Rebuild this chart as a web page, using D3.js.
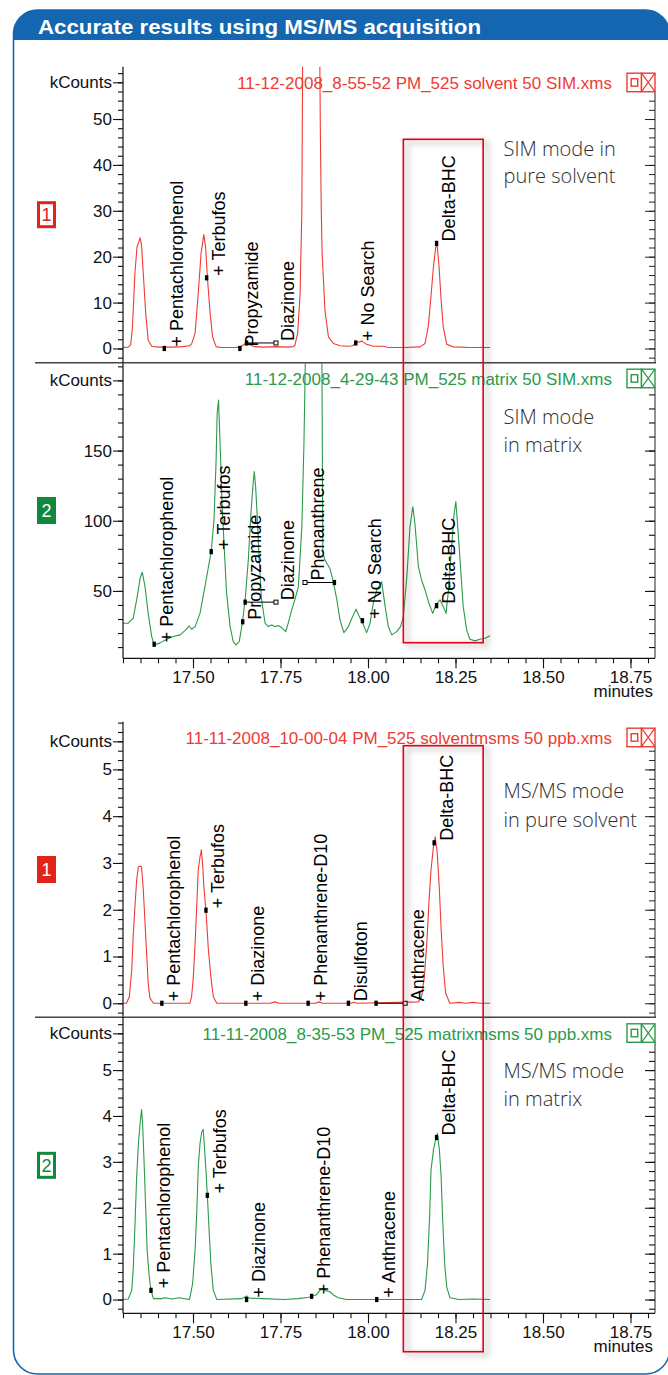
<!DOCTYPE html>
<html><head><meta charset="utf-8">
<script src="https://cdn.jsdelivr.net/npm/d3@7"></script>
<style>
html,body{margin:0;padding:0;background:#fff;}
svg{display:block;}
</style></head>
<body>
<svg id="chart" width="668" height="1375"></svg>
<script>
// ---------------- DATA ----------------
const headerTitle = "Accurate results using MS/MS acquisition";
const timeDomain = [17.30, 18.82];
const xMajorTicks = [17.50, 17.75, 18.00, 18.25, 18.50, 18.75];
const xTickLabels = ["17.50", "17.75", "18.00", "18.25", "18.50", "18.75"];
const xUnit = "minutes";
const yUnit = "kCounts";
const highlightWindow = [18.101, 18.329];

const panelTitles = [
  "11-12-2008_8-55-52 PM_525 solvent 50 SIM.xms",
  "11-12-2008_4-29-43 PM_525 matrix 50 SIM.xms",
  "11-11-2008_10-00-04 PM_525 solventmsms 50 ppb.xms",
  "11-11-2008_8-35-53 PM_525 matrixmsms 50 ppb.xms"
];
const panelNotes = [
  ["SIM mode in", "pure solvent"],
  ["SIM mode", "in matrix"],
  ["MS/MS mode", "in pure solvent"],
  ["MS/MS mode", "in matrix"]
];
const panelBadges = ["1", "2", "1", "2"];

// y tick labels per panel
const yTicksSolventSIM = [0, 10, 20, 30, 40, 50];
const yTicksMatrixSIM = [50, 100, 150];
const yTicksSolventMSMS = [0, 1, 2, 3, 4, 5];
const yTicksMatrixMSMS = [0, 1, 2, 3, 4, 5];

// traces: [minutes, kCounts]
const solventSIM = [
  [17.300,0.2],[17.315,0.3],[17.322,0.8],[17.327,4.7],[17.334,16.3],[17.340,22.1],[17.349,24.1],[17.353,22.5],
  [17.358,16.3],[17.365,7.6],[17.372,1.8],[17.382,0.5],[17.400,0.3],[17.440,0.3],[17.470,0.4],[17.490,0.6],
  [17.496,1.0],[17.506,3.3],[17.515,12.0],[17.523,20.7],[17.531,24.8],[17.536,22.1],[17.541,15.6],[17.549,7.6],
  [17.556,2.5],[17.566,0.4],[17.580,0.2],[17.620,0.2],[17.634,0.3],[17.645,0.8],[17.653,1.2],[17.660,0.9],
  [17.675,0.4],[17.700,0.3],[17.740,0.4],[17.770,0.3],[17.787,0.4],[17.791,0.7],[17.799,3.3],[17.806,12.0],
  [17.811,30],[17.813,60],[17.816,150],[17.830,600],[17.840,740],[17.850,600],[17.860,100],[17.8625,61],
  [17.864,46],[17.8665,30],[17.869,20.7],[17.877,8.3],[17.887,2.5],[17.901,1.1],[17.920,0.6],[17.940,0.5],
  [17.956,0.6],[17.965,1.2],[17.982,1.6],[17.996,0.9],[18.015,0.5],[18.044,0.5],[18.058,0.2],[18.100,0.2],
  [18.149,0.35],[18.163,1.1],[18.172,4.7],[18.179,10.5],[18.187,17.8],[18.193,21.8],[18.197,23.0],[18.203,17.8],
  [18.209,10.5],[18.215,4.7],[18.225,0.9],[18.244,0.35],[18.291,0.2],[18.349,0.2]
];
const matrixSIM = [
  [17.300,27],[17.315,27],[17.329,30.5],[17.339,43.6],[17.349,59],[17.355,63.3],[17.363,53],[17.372,34],
  [17.382,17.5],[17.389,11.5],[17.406,13],[17.425,15.6],[17.444,17.5],[17.463,18.7],[17.477,21.7],[17.489,25],
  [17.496,22.7],[17.506,24.6],[17.520,34],[17.534,53],[17.544,67],[17.552,78],[17.560,100.6],[17.566,143],
  [17.569,176.5],[17.573,186],[17.575,171.8],[17.579,143],[17.583,112.5],[17.589,81.6],[17.596,48.4],[17.606,24.6],
  [17.615,13.9],[17.623,11.5],[17.632,13.9],[17.641,27],[17.649,43.6],[17.658,72],[17.665,103],[17.671,124.3],
  [17.675,135],[17.679,124.3],[17.684,100.6],[17.689,72],[17.696,43.6],[17.706,27],[17.715,24.6],[17.725,25.8],
  [17.734,24.6],[17.744,25.3],[17.753,23.9],[17.765,21],[17.772,27],[17.782,36.5],[17.791,43.6],[17.801,53],
  [17.811,95.8],[17.817,155],[17.822,230],[17.840,600],[17.850,700],[17.860,500],[17.868,230],[17.871,77],
  [17.877,72],[17.891,66],[17.901,56.6],[17.911,43.6],[17.920,29.3],[17.931,20.3],[17.944,24.6],[17.956,31.7],
  [17.966,37],[17.975,31.7],[17.985,27],[17.996,20.3],[18.006,27],[18.015,41.2],[18.025,50.7],[18.039,56.6],
  [18.049,38.8],[18.058,24.6],[18.068,18.7],[18.082,21],[18.093,24.6],[18.101,31.7],[18.111,60.2],[18.120,95.8],
  [18.128,110],[18.134,98.2],[18.144,67.3],[18.153,57.8],[18.163,50.7],[18.174,41.2],[18.185,34],[18.194,40],
  [18.206,43.6],[18.215,38.8],[18.223,34],[18.229,48.4],[18.239,81.6],[18.246,105],[18.251,113.6],[18.255,100.6],
  [18.263,72],[18.272,38.8],[18.282,22.2],[18.291,15.6],[18.306,14.4],[18.320,15.6],[18.334,16.3],[18.349,18]
];
const solventMSMS = [
  [17.300,0],[17.310,0],[17.318,0.14],[17.325,0.71],[17.329,1.42],[17.334,2.06],[17.339,2.63],[17.344,2.92],
  [17.349,2.93],[17.353,2.92],[17.358,2.42],[17.363,1.71],[17.368,1.0],[17.372,0.43],[17.377,0.11],[17.387,0],
  [17.491,0],[17.496,0.14],[17.501,0.57],[17.506,1.28],[17.511,2.14],[17.515,2.85],[17.520,3.13],[17.524,3.28],
  [17.528,2.92],[17.531,2.49],[17.537,1.99],[17.544,1.14],[17.551,0.57],[17.558,0.14],[17.568,0],[17.720,0],
  [17.734,0.03],[17.745,0],[17.850,0],[17.860,0.03],[17.870,0],[17.950,0],[17.960,0.02],[17.970,0],
  [18.144,0.03],[18.153,0.14],[18.161,0.57],[18.168,1.28],[18.174,2.14],[18.180,2.85],[18.187,3.35],[18.192,3.56],
  [18.198,3.2],[18.204,2.42],[18.209,1.57],[18.215,0.78],[18.222,0.21],[18.234,0],[18.260,0.02],[18.280,0],
  [18.300,0.02],[18.320,0],[18.349,0]
];
const matrixMSMS = [
  [17.300,0],[17.315,0.01],[17.325,0.2],[17.329,0.64],[17.334,1.58],[17.339,2.67],[17.344,3.4],[17.349,3.84],
  [17.353,4.14],[17.356,3.84],[17.360,3.04],[17.365,1.95],[17.369,1.08],[17.375,0.49],[17.380,0.2],[17.387,0.02],
  [17.410,0.02],[17.420,0.04],[17.440,0.01],[17.460,0.04],[17.490,0],[17.499,0.35],[17.506,1.08],[17.511,1.95],
  [17.515,2.89],[17.520,3.4],[17.525,3.65],[17.529,3.71],[17.532,3.4],[17.537,2.82],[17.541,2.27],[17.546,1.51],
  [17.551,0.78],[17.558,0.2],[17.568,0],[17.640,0.02],[17.653,0.08],[17.660,0.03],[17.700,0.02],[17.760,0],
  [17.800,0.02],[17.830,0.05],[17.839,0.07],[17.852,0.1],[17.863,0.2],[17.873,0.24],[17.877,0.2],[17.891,0.17],
  [17.901,0.1],[17.915,0.04],[17.939,0],[18.153,0],[18.163,0.2],[18.170,0.78],[18.176,1.8],[18.180,2.82],
  [18.187,3.26],[18.192,3.44],[18.198,3.62],[18.204,3.26],[18.209,2.67],[18.213,1.8],[18.219,0.78],[18.225,0.27],
  [18.234,0.04],[18.260,0],[18.300,0.01],[18.349,0]
];

// peak labels: [text, minutes, kCounts]
const solventSIMLabels = [["+ Pentachlorophenol",17.418,0],["+ Terbufos",17.539,15.4],["Propyzamide",17.634,0],
  ["Diazinone",17.737,1.2],["+ No Search",17.965,1.2],["Delta-BHC",18.196,22.9]];
const matrixSIMLabels = [["+ Pentachlorophenol",17.389,12],["+ Terbufos",17.552,78],["Propyzamide",17.642,28],
  ["Diazinone",17.737,42],["Phenanthrene",17.820,56],["+ No Search",17.984,28.8],["Delta-BHC",18.196,39.5]];
const solventMSMSLabels = [["+ Pentachlorophenol",17.411,0],["+ Terbufos",17.537,1.99],["+ Diazinone",17.651,0],
  ["+ Phenanthrene-D10",17.829,0],["Disulfoton",17.944,0],["Anthracene",18.106,0],["Delta-BHC",18.189,3.43]];
const matrixMSMSLabels = [["+ Pentachlorophenol",17.380,0.2],["+ Terbufos",17.541,2.27],["+ Diazinone",17.653,0],
  ["+ Phenanthrene-D10",17.839,0.07],["+ Anthracene",18.025,0],["Delta-BHC",18.196,3.53]];

// filled peak markers: [minutes, kCounts]
const solventSIMMarkers = [[17.418,0],[17.539,15.4],[17.634,0],[17.653,1.2],[17.965,1.2],[18.196,22.9]];
const matrixSIMMarkers = [[17.389,12],[17.552,78],[17.642,28],[17.649,42],[17.904,56],[17.984,28.8],[18.196,39.5]];
const solventMSMSMarkers = [[17.411,0],[17.537,1.99],[17.651,0],[17.829,0],[17.944,0],[18.023,0],[18.189,3.43]];
const matrixMSMSMarkers = [[17.380,0.2],[17.541,2.27],[17.653,0],[17.839,0.07],[18.025,0],[18.196,3.53]];

// integration brackets: [filled end, open end, kCounts]
const solventSIMBrackets = [[17.653,17.737,1.2]];
const matrixSIMBrackets = [[17.649,17.737,42],[17.904,17.820,56]];
const solventMSMSBrackets = [[18.023,18.106,0]];
const matrixMSMSBrackets = [];

// ---------------- LAYOUT / STYLE ----------------
const FONT = "'Liberation Sans', Arial, Helvetica, sans-serif";
const RED = "#ee3b33", GREEN = "#2b9a4b";
const BADGE_RED = "#e2231a", BADGE_GREEN = "#0f8a3c";
const BLUE = "#1566b0";
const X0 = 123, X1 = 655;

const panels = [
  {series: solventSIM, labels: solventSIMLabels, markers: solventSIMMarkers, brackets: solventSIMBrackets,
   color: RED, badgeColor: BADGE_RED, badgeFilled: false, top: 66.7, bottom: 362.7, yDomain: [-3.1, 61.4],
   minor: 2, minorRange: [-2, 60], majors: yTicksSolventSIM, kTick: 58, xAxis: false, noteY: [155.7, 182.7]},
  {series: matrixSIM, labels: matrixSIMLabels, markers: matrixSIMMarkers, brackets: matrixSIMBrackets,
   color: GREEN, badgeColor: BADGE_GREEN, badgeFilled: true, top: 362.7, bottom: 658.3, yDomain: [2, 212.6],
   minor: 10, minorRange: [10, 210], majors: yTicksMatrixSIM, kTick: 200, xAxis: true, noteY: [424.3, 451.7]},
  {series: solventMSMS, labels: solventMSMSLabels, markers: solventMSMSMarkers, brackets: solventMSMSBrackets,
   color: RED, badgeColor: BADGE_RED, badgeFilled: true, top: 721.7, bottom: 1017.3, yDomain: [-0.3, 6.02],
   minor: 0.2, minorRange: [-0.2, 6.0], majors: yTicksSolventMSMS, kTick: 5.6, xAxis: false, noteY: [798.3, 826.7]},
  {series: matrixMSMS, labels: matrixMSMSLabels, markers: matrixMSMSMarkers, brackets: matrixMSMSBrackets,
   color: GREEN, badgeColor: BADGE_GREEN, badgeFilled: false, top: 1017.3, bottom: 1313.3, yDomain: [-0.3, 6.15],
   minor: 0.2, minorRange: [-0.2, 6.0], majors: yTicksMatrixMSMS, kTick: 5.8, xAxis: true, noteY: [1078.3, 1106]}
];
const highlightBoxes = [[139.3, 642.7], [745.7, 1351.7]];

// ---------------- DRAW ----------------
const svg = d3.select("#chart");
const defs = svg.append("defs");
defs.append("filter").attr("id", "shadow").attr("x", "-30%").attr("y", "-10%").attr("width", "160%").attr("height", "120%")
  .append("feDropShadow").attr("dx", 4).attr("dy", 3).attr("stdDeviation", 3)
  .attr("flood-color", "#000").attr("flood-opacity", 0.4);

// outer frame
const fx = 13.5, fy = 10, fw = 656, fh = 1364, fr = 24;
defs.append("clipPath").attr("id", "frameClip").append("rect")
  .attr("x", fx).attr("y", fy).attr("width", fw).attr("height", fh).attr("rx", fr).attr("ry", fr);
svg.append("rect").attr("clip-path", "url(#frameClip)")
  .attr("x", fx).attr("y", fy).attr("width", fw).attr("height", 30).attr("fill", BLUE);
svg.append("rect").attr("x", fx).attr("y", fy).attr("width", fw).attr("height", fh).attr("rx", fr).attr("ry", fr)
  .attr("fill", "none").attr("stroke", BLUE).attr("stroke-width", 1.6);
svg.append("text").attr("x", 38).attr("y", 33.5).attr("fill", "#fff")
  .attr("font-family", "'Liberation Sans', Arial, sans-serif").attr("font-weight", "bold")
  .attr("font-size", 21).attr("textLength", 443).attr("lengthAdjust", "spacingAndGlyphs")
  .text(headerTitle);

const x = d3.scaleLinear().domain(timeDomain).range([X0, X1]);

function fixed(v) { return +v.toFixed(4); }

panels.forEach((p, i) => {
  const y = d3.scaleLinear().domain(p.yDomain).range([p.bottom, p.top]);
  const g = svg.append("g");
  defs.append("clipPath").attr("id", "clip" + i).append("rect")
    .attr("x", X0).attr("y", p.top).attr("width", X1 - X0).attr("height", p.bottom - p.top);

  // title
  g.append("text").attr("x", 612).attr("y", p.top + 22.5).attr("text-anchor", "end")
    .attr("fill", p.color).attr("font-family", FONT).attr("font-size", 17).text(panelTitles[i]);

  // side note
  panelNotes[i].forEach((line, k) => {
    g.append("text").attr("x", 503.5).attr("y", p.noteY[k]).attr("fill", "#2e2e2e")
      .attr("font-family", "'Open Sans', 'Noto Sans', sans-serif").attr("font-weight", 300)
      .attr("font-size", 20).text(line);
  });

  // trace
  const line = d3.line().x(d => x(d[0])).y(d => y(d[1]));
  g.append("path").datum(p.series).attr("clip-path", `url(#clip${i})`)
    .attr("d", line).attr("fill", "none").attr("stroke", p.color).attr("stroke-width", 1.1)
    .attr("stroke-linejoin", "round");

  // left y axis
  const nMin = Math.round(p.minorRange[0] / p.minor), nMax = Math.round(p.minorRange[1] / p.minor);
  const minorVals = d3.range(nMin, nMax + 1).map(k => fixed(k * p.minor));
  const ax1 = g.append("g").attr("transform", `translate(${X0},0)`)
    .call(d3.axisLeft(y).tickValues(minorVals).tickSize(5).tickSizeOuter(0).tickFormat(""));
  ax1.select(".domain").remove();
  const majorVals = p.majors.concat([p.kTick]);
  const ax2 = g.append("g").attr("transform", `translate(${X0},0)`)
    .call(d3.axisLeft(y).tickValues(majorVals).tickSize(10).tickSizeOuter(0).tickPadding(1)
      .tickFormat(d => d === p.kTick ? yUnit : d3.format("d")(d)));
  ax2.select(".domain").remove();
  ax2.attr("font-family", FONT).attr("font-size", 17);
  ax2.selectAll("text").attr("fill", "#111");
  g.append("line").attr("x1", X0).attr("x2", X0).attr("y1", p.top).attr("y2", p.bottom)
    .attr("stroke", "#111").attr("stroke-width", 1.2);
  g.selectAll(".tick line").attr("stroke", "#111").attr("stroke-width", 1.1);

  // right axis (inward ticks)
  const iconTop = p.top + 6.5, iconH = 18.5;
  const rMinor = minorVals.filter(v => y(v) > iconTop + iconH + 2);
  const rMajor = majorVals.filter(v => y(v) > iconTop + iconH + 2);
  const ar1 = g.append("g").attr("transform", `translate(${X1},0)`)
    .call(d3.axisLeft(y).tickValues(rMinor).tickSize(6).tickSizeOuter(0).tickFormat(""));
  ar1.select(".domain").remove();
  const ar2 = g.append("g").attr("transform", `translate(${X1},0)`)
    .call(d3.axisLeft(y).tickValues(rMajor).tickSize(10).tickSizeOuter(0).tickFormat(""));
  ar2.select(".domain").remove();
  ar1.selectAll("line").attr("stroke", "#222");
  ar2.selectAll("line").attr("stroke", "#222");
  g.append("line").attr("x1", X1).attr("x2", X1).attr("y1", iconTop + iconH).attr("y2", p.bottom)
    .attr("stroke", "#222").attr("stroke-width", 1);

  // window icon
  const ix = 627;
  g.append("rect").attr("x", ix).attr("y", iconTop).attr("width", 14.5).attr("height", iconH)
    .attr("fill", "#fff").attr("stroke", p.color).attr("stroke-width", 1.4);
  g.append("rect").attr("x", ix + 4.2).attr("y", iconTop + 5.5).attr("width", 6.5).attr("height", 7.5)
    .attr("fill", "none").attr("stroke", p.color).attr("stroke-width", 1.4);
  g.append("rect").attr("x", ix + 14.5).attr("y", iconTop).attr("width", 13.5).attr("height", iconH)
    .attr("fill", "#fff").attr("stroke", p.color).attr("stroke-width", 1.4);
  g.append("path").attr("d", `M${ix + 14.5},${iconTop}L${ix + 28},${iconTop + iconH}M${ix + 28},${iconTop}L${ix + 14.5},${iconTop + iconH}`)
    .attr("stroke", p.color).attr("stroke-width", 1.2).attr("fill", "none");

  // badge
  const cy = (p.top + p.bottom) / 2;
  g.append("rect").attr("x", p.badgeFilled ? 37 : 38.5).attr("y", cy - (p.badgeFilled ? 13.5 : 12))
    .attr("width", p.badgeFilled ? 19 : 16).attr("height", p.badgeFilled ? 27 : 24)
    .attr("fill", p.badgeFilled ? p.badgeColor : "#fff")
    .attr("stroke", p.badgeColor).attr("stroke-width", p.badgeFilled ? 0 : 3);
  g.append("text").attr("x", 46.5).attr("y", cy + 6.5).attr("text-anchor", "middle")
    .attr("font-family", FONT).attr("font-size", 18)
    .attr("fill", p.badgeFilled ? "#fff" : p.badgeColor).text(panelBadges[i]);

  // brackets
  p.brackets.forEach(b => {
    g.append("line").attr("x1", x(b[0])).attr("x2", x(b[1])).attr("y1", y(b[2])).attr("y2", y(b[2]))
      .attr("stroke", "#000").attr("stroke-width", 1);
    g.append("rect").attr("x", x(b[1]) - 2).attr("y", y(b[2]) - 2).attr("width", 4).attr("height", 4)
      .attr("fill", "#fff").attr("stroke", "#000").attr("stroke-width", 1);
  });
  // markers
  g.selectAll(null).data(p.markers).enter().append("rect")
    .attr("x", d => x(d[0]) - 1.7).attr("y", d => y(d[1]) - 2.6).attr("width", 3.4).attr("height", 5.2)
    .attr("fill", "#000");
  // labels
  g.selectAll(null).data(p.labels).enter().append("text")
    .attr("transform", d => `translate(${x(d[1]) + 18.5},${y(d[2]) - 2}) rotate(-90)`)
    .attr("font-family", FONT).attr("font-size", 18).attr("fill", "#000")
    .text(d => d[0]);

  // x axis
  if (p.xAxis) {
    const xMinor = d3.range(0, 31).map(k => fixed(17.30 + k * 0.05));
    const xa1 = g.append("g").attr("transform", `translate(0,${p.bottom})`)
      .call(d3.axisBottom(x).tickValues(xMinor).tickSize(5).tickSizeOuter(0).tickFormat(""));
    xa1.select(".domain").remove();
    const xa2 = g.append("g").attr("transform", `translate(0,${p.bottom})`)
      .call(d3.axisBottom(x).tickValues(xMajorTicks).tickSize(10).tickSizeOuter(0).tickPadding(2.4)
        .tickFormat((d, k) => xTickLabels[k]));
    xa2.select(".domain").remove();
    xa2.attr("font-family", FONT).attr("font-size", 17);
    xa2.selectAll("text").attr("fill", "#111");
    g.selectAll(".tick line").attr("stroke", "#111").attr("stroke-width", 1.1);
    g.append("line").attr("x1", X0).attr("x2", X1).attr("y1", p.bottom).attr("y2", p.bottom)
      .attr("stroke", "#111").attr("stroke-width", 1.2);
    g.append("text").attr("x", 653).attr("y", p.bottom + 38.5).attr("text-anchor", "end")
      .attr("font-family", FONT).attr("font-size", 17).attr("fill", "#111").text(xUnit);
  } else {
    // separator line between stacked panels
    svg.append("line").attr("x1", 35).attr("x2", 656).attr("y1", p.bottom).attr("y2", p.bottom)
      .attr("stroke", "#444").attr("stroke-width", 1.6);
  }
});

// highlight boxes around Delta-BHC window
highlightBoxes.forEach(b => {
  svg.append("rect").attr("x", x(highlightWindow[0])).attr("y", b[0])
    .attr("width", x(highlightWindow[1]) - x(highlightWindow[0])).attr("height", b[1] - b[0])
    .attr("fill", "none").attr("stroke", "#e3061c").attr("stroke-width", 1.6)
    .attr("filter", "url(#shadow)");
});
</script>
</body></html>
